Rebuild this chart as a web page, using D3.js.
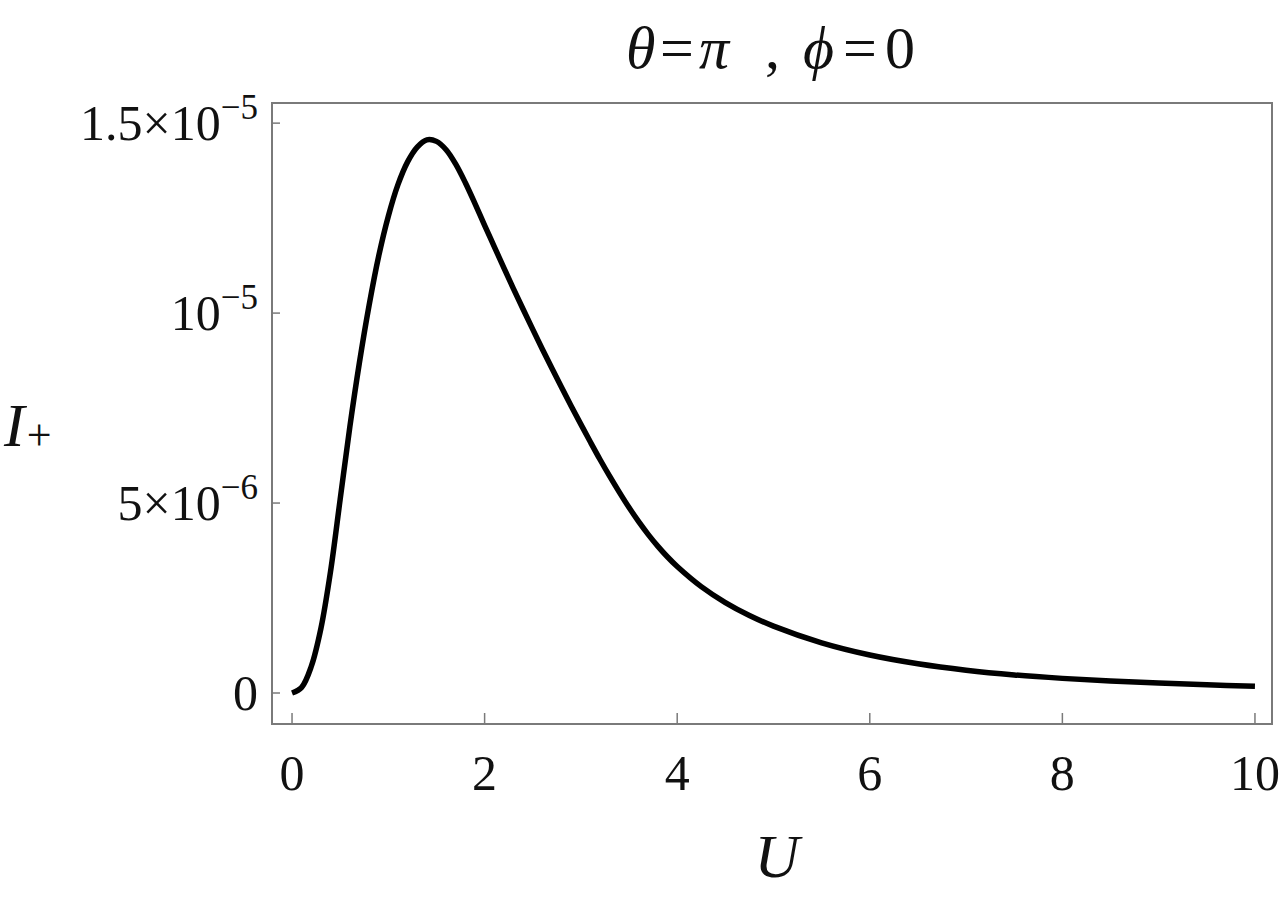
<!DOCTYPE html>
<html>
<head>
<meta charset="utf-8">
<script src="https://cdn.jsdelivr.net/npm/d3@7"></script>
<style>
  body { margin: 0; background: #fff; }
  text { font-family: "Liberation Serif", "DejaVu Serif", serif; fill: #111; }
</style>
</head>
<body>
<script>
// curve samples (U, I+ in units of 1e-6)
var uValues = [0, 0.1, 0.2, 0.3, 0.4, 0.5, 0.6, 0.7, 0.8, 0.9, 1.0, 1.1, 1.2, 1.3, 1.4, 1.5, 1.6,
               1.7, 1.8, 1.9, 2.0, 2.1, 2.2, 2.3, 2.4, 2.5, 2.6, 2.7, 2.8, 2.9, 3.0, 3.1, 3.2, 3.3,
               3.4, 3.5, 3.6, 3.7, 3.8, 3.9, 4.0, 4.25, 4.5, 4.75, 5.0, 5.5, 6.0, 6.5, 7.0, 7.5,
               8.0, 8.5, 9.0, 9.5, 10];
var iValues = [0, 0.15, 0.7, 1.7, 3.2, 5.1, 7.0, 8.7, 10.2, 11.5, 12.55, 13.38, 13.98, 14.37, 14.56, 14.52, 14.3,
               13.92, 13.43, 12.88, 12.31, 11.75, 11.19, 10.64, 10.1, 9.57, 9.05, 8.54, 8.04, 7.55, 7.07, 6.6, 6.14, 5.7,
               5.28, 4.88, 4.51, 4.17, 3.86, 3.58, 3.33, 2.8, 2.38, 2.04, 1.76, 1.32, 1.0, 0.77, 0.6, 0.475,
               0.385, 0.315, 0.26, 0.215, 0.18];

var xTicks = [0, 2, 4, 6, 8, 10];
var yTicks = [0, 5e-6, 1e-5, 1.5e-5];
var yTickMain = ["0", "5\u00d710", "10", "1.5\u00d710"];
var yTickSup = ["", "\u22126", "\u22125", "\u22125"];

var width = 1280, height = 901;

var svg = d3.select("body").append("svg")
    .attr("width", width)
    .attr("height", height);

// plot range is padded like the original frame
var xMap = d3.scaleLinear().domain([-0.208, 10.177]).range([272, 1272]);
var yMap = d3.scaleLinear().domain([-0.816e-6, 15.53e-6]).range([724, 103]);

var data = uValues.map(function(u, i) { return {u: u, v: iValues[i] * 1e-6}; });

// frame
var x0 = xMap.range()[0], x1 = xMap.range()[1];
var y0 = yMap.range()[0], y1 = yMap.range()[1];
svg.append("rect")
    .attr("x", x0).attr("y", y1)
    .attr("width", x1 - x0).attr("height", y0 - y1)
    .attr("fill", "none")
    .attr("stroke", "#7a7a7a")
    .attr("stroke-width", 2);

// x ticks
var xAxis = svg.append("g").attr("class", "x axis");
xAxis.selectAll("line")
    .data(xTicks)
  .enter().append("line")
    .attr("x1", function(d) { return xMap(d); })
    .attr("x2", function(d) { return xMap(d); })
    .attr("y1", y0)
    .attr("y2", y0 - 11)
    .attr("stroke", "#7a7a7a")
    .attr("stroke-width", 1.5);
xAxis.selectAll("text")
    .data(xTicks)
  .enter().append("text")
    .attr("x", function(d) { return xMap(d); })
    .attr("y", 790)
    .style("text-anchor", "middle")
    .style("font-size", "50px")
    .text(function(d) { return d; });

// y ticks
var yAxis = svg.append("g").attr("class", "y axis");
yAxis.selectAll("line")
    .data(yTicks)
  .enter().append("line")
    .attr("x1", x0)
    .attr("x2", x0 + 8)
    .attr("y1", function(d) { return yMap(d); })
    .attr("y2", function(d) { return yMap(d); })
    .attr("stroke", "#7a7a7a")
    .attr("stroke-width", 1.5);
var yLab = yAxis.selectAll("text")
    .data(yTicks)
  .enter().append("text")
    .attr("x", 258)
    .attr("y", function(d) { return yMap(d) + 17; })
    .style("text-anchor", "end")
    .style("font-size", "50px");
yLab.append("tspan")
    .text(function(d, i) { return yTickMain[i]; });
yLab.append("tspan")
    .attr("dy", -21)
    .style("font-size", "35px")
    .text(function(d, i) { return yTickSup[i]; });

// curve
var line = d3.line()
    .x(function(d) { return xMap(d.u); })
    .y(function(d) { return yMap(d.v); })
    .curve(d3.curveCatmullRom.alpha(0.5));

svg.append("path")
    .datum(data)
    .attr("d", line)
    .attr("fill", "none")
    .attr("stroke", "#000")
    .attr("stroke-width", 5.5)
    .attr("stroke-linejoin", "round");

// title
var titleParts = [
  {t: "\u03b8", x: 626, it: true},
  {t: "=", x: 660, it: false},
  {t: "\u03c0", x: 699, it: true},
  {t: ",", x: 765, it: false},
  {t: "\u03d5", x: 803, it: true},
  {t: "=", x: 843, it: false},
  {t: "0", x: 885, it: false}
];
var title = svg.append("text")
    .attr("y", 68)
    .style("font-size", "60px");
title.selectAll("tspan")
    .data(titleParts)
  .enter().append("tspan")
    .attr("x", function(d) { return d.x; })
    .style("font-style", function(d) { return d.it ? "italic" : "normal"; })
    .text(function(d) { return d.t; });

// axis labels
svg.append("text")
    .attr("x", 777)
    .attr("y", 877)
    .style("text-anchor", "middle")
    .style("font-size", "62px")
    .style("font-style", "italic")
    .text("U");

var ylabel = svg.append("text")
    .attr("x", 4)
    .attr("y", 446)
    .style("font-size", "62px");
ylabel.append("tspan").style("font-style", "italic").text("I");
ylabel.append("tspan")
    .attr("dy", 4)
    .attr("dx", 2)
    .style("font-size", "44px")
    .text("+");
</script>
</body>
</html>
